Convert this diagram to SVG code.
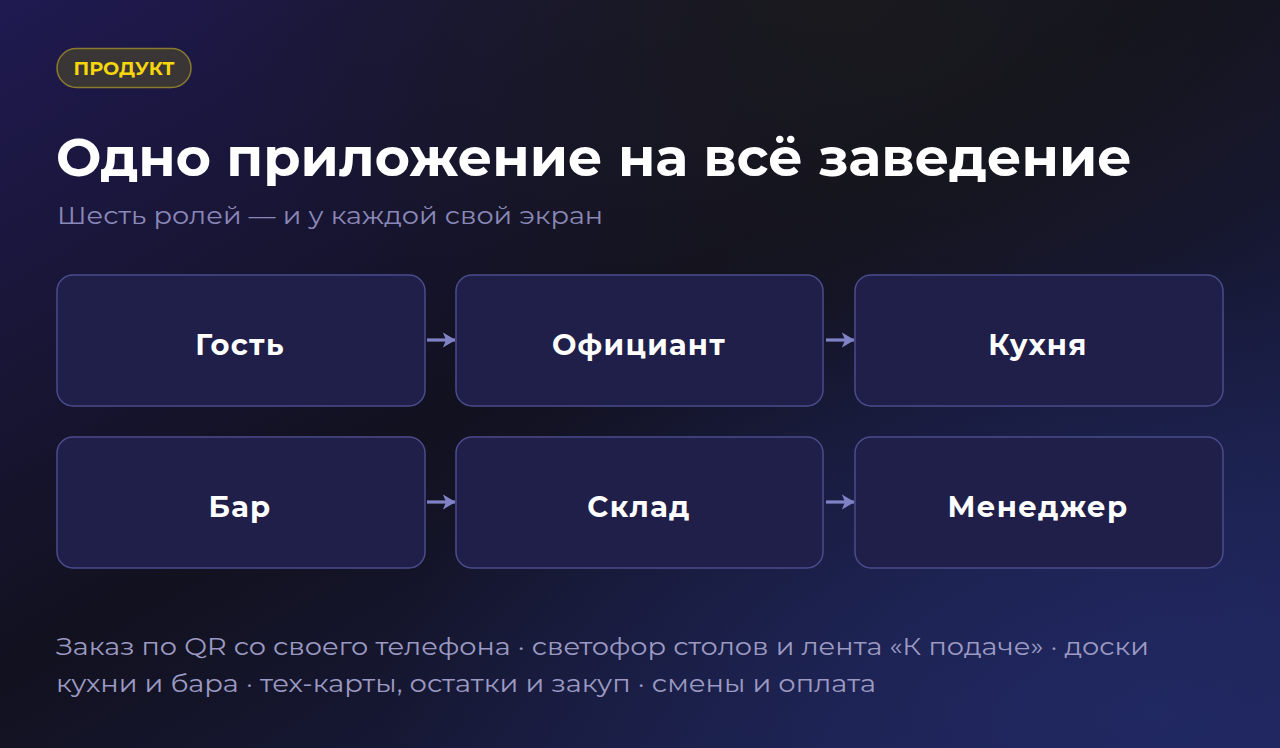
<svg xmlns="http://www.w3.org/2000/svg" width="1280" height="748" viewBox="0 0 1280 748">
<defs>
<linearGradient id="bg" x1="0" y1="0" x2="1" y2="1">
<stop offset="0" stop-color="#1f1a50"/>
<stop offset="0.45" stop-color="#12111f"/>
<stop offset="1" stop-color="#1d2458"/>
</linearGradient>
<radialGradient id="glow1" cx="0.9" cy="0.95" r="0.6">
<stop offset="0" stop-color="#222a66" stop-opacity="0.8"/>
<stop offset="1" stop-color="#222a66" stop-opacity="0"/>
</radialGradient>
<radialGradient id="glow2" cx="0.65" cy="0" r="0.5">
<stop offset="0" stop-color="#1a1a1c" stop-opacity="0.9"/>
<stop offset="1" stop-color="#1a1a1c" stop-opacity="0"/>
</radialGradient>
<marker id="ah" viewBox="0 0 10 12" refX="9.5" refY="6" markerWidth="4" markerHeight="4.8" orient="auto">
<path d="M0,0 L10,6 L0,12 L2.5,6 Z" fill="#8082c6"/>
</marker>
<style>
.box{fill:#1f1f4a;stroke:#4b4c8c;stroke-width:1.5}
.lbl{font-family:Montserrat,Inter,"DejaVu Sans",sans-serif;font-weight:700;font-size:29px;letter-spacing:1.3px;fill:#ffffff;text-anchor:middle}
.con{stroke:#8082c6;stroke-width:3.2;fill:none;marker-end:url(#ah)}
</style>
</defs>
<rect width="1280" height="748" fill="url(#bg)"/>
<rect width="1280" height="748" fill="url(#glow2)"/>
<rect width="1280" height="748" fill="url(#glow1)"/>

<g id="badge">
<rect x="57" y="48.5" width="134" height="39" rx="19.5" fill="#3a3636" stroke="#8a7a2e" stroke-width="1.5"/>
<text x="124" y="75" font-family="Montserrat,Inter,'DejaVu Sans',sans-serif" font-weight="700" font-size="17.5" fill="#f7d70c" text-anchor="middle" textLength="101" lengthAdjust="spacingAndGlyphs">ПРОДУКТ</text>
</g>
<g id="title">
<text x="56" y="176" font-family="Montserrat,Inter,'DejaVu Sans',sans-serif" font-weight="700" font-size="53" fill="#ffffff" textLength="1076" lengthAdjust="spacingAndGlyphs">Одно приложение на всё заведение</text>
<text x="57" y="224" font-family="Montserrat,Inter,'DejaVu Sans',sans-serif" font-size="24" fill="#8a88b8" textLength="546" lengthAdjust="spacingAndGlyphs">Шесть ролей — и у каждой свой экран</text>
</g>

<g id="connectors">
<line class="con" x1="427" y1="340" x2="455" y2="340"/>
<line class="con" x1="826" y1="340" x2="854" y2="340"/>
<line class="con" x1="427" y1="502" x2="455" y2="502"/>
<line class="con" x1="826" y1="502" x2="854" y2="502"/>
</g>

<g id="n-guest"><rect class="box" x="57" y="275" width="368" height="131" rx="16"/><text class="lbl" x="240" y="355">Гость</text></g>
<g id="n-waiter"><rect class="box" x="456" y="275" width="367" height="131" rx="16"/><text class="lbl" x="639" y="355">Официант</text></g>
<g id="n-kitchen"><rect class="box" x="855" y="275" width="368" height="131" rx="16"/><text class="lbl" x="1038" y="355">Кухня</text></g>
<g id="n-bar"><rect class="box" x="57" y="437" width="368" height="131" rx="16"/><text class="lbl" x="240" y="517">Бар</text></g>
<g id="n-stock"><rect class="box" x="456" y="437" width="367" height="131" rx="16"/><text class="lbl" x="639" y="517">Склад</text></g>
<g id="n-manager"><rect class="box" x="855" y="437" width="368" height="131" rx="16"/><text class="lbl" x="1038" y="517">Менеджер</text></g>

<g id="footer" font-family="Montserrat,Inter,'DejaVu Sans',sans-serif" font-size="25" fill="#9c9ac2">
<text x="56" y="655" textLength="1093" lengthAdjust="spacingAndGlyphs">Заказ по QR со своего телефона · светофор столов и лента «К подаче» · доски</text>
<text x="56" y="692" textLength="820" lengthAdjust="spacingAndGlyphs">кухни и бара · тех-карты, остатки и закуп · смены и оплата</text>
</g>
</svg>
